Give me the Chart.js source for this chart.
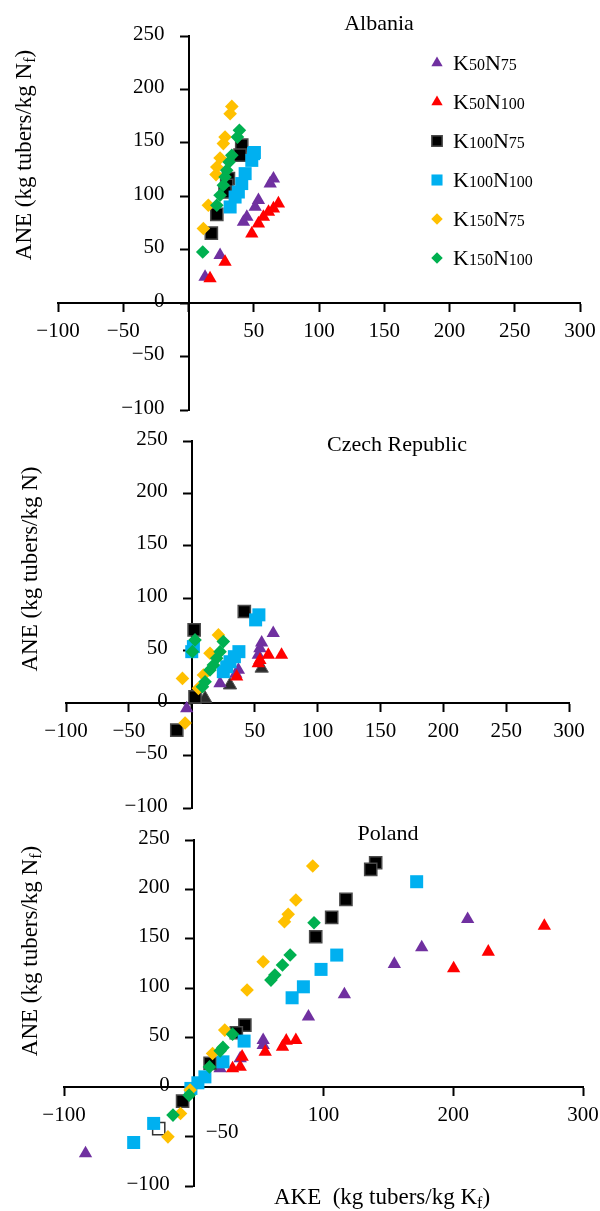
<!DOCTYPE html>
<html lang="en">
<head>
<meta charset="UTF-8">
<title>ANE vs AKE</title>
<script src="https://cdn.jsdelivr.net/npm/chart.js"></script>
<style>
  body { margin: 0; background: #fff; }
  #wrap { position: relative; width: 600px; height: 1211px; }
  canvas { position: absolute; left: 0; }
</style>
</head>
<body>
<div id="wrap">
  <canvas id="albania" width="600" height="424" style="top:0"></canvas>
  <canvas id="czech" width="600" height="400" style="top:424px"></canvas>
  <canvas id="poland" width="600" height="387" style="top:824px"></canvas>
</div>
<script>
// legend names: [K, K-dose, N, N-dose]
const seriesNames = [
  ['K', '50', 'N', '75'],
  ['K', '50', 'N', '100'],
  ['K', '100', 'N', '75'],
  ['K', '100', 'N', '100'],
  ['K', '150', 'N', '75'],
  ['K', '150', 'N', '100']
];

// axis ranges
const xMin = -100, xMax = 300;
const yMin = -100, yMax = 250;

// Albania [AKE, ANE]
const albK50N75 = [[65.1,116.5],[62.6,111.9],[53.6,96.3],[51.1,90.0],[44.7,80.7],[42.1,76.0],[24.2,44.9],[12.7,24.6]];
const albK50N100 = [[68.9,93.2],[65.1,88.5],[61.3,85.3],[57.4,80.7],[53.6,74.5],[48.5,65.1],[28.0,38.6],[16.5,23.1]];
const albK100N75 = [[40.8,148],[39.5,138.5],[30.6,116.5],[29.3,110.3],[28.0,104],[21.7,83],[17.5,65.5]];
const albK100N100 = [[50.5,141],[49.8,139.9],[48.5,133.6],[43.4,121.2],[40.8,111.9],[38.2,104.0],[35.7,99.3],[31.9,90.0]];
const albK150N75 = [[33.2,184.1],[31.9,177.3],[28.0,155.4],[26.7,149.3],[24.2,135.8],[21.7,127.4],[21.1,120.3],[15.2,91.6],[11.4,69.8]];
const albK150N100 = [[39.0,161.7],[37.5,155.4],[33.2,138.3],[31.1,132.1],[29.3,124.3],[28.0,118.0],[26.7,110.3],[24.2,100.9],[21.7,91.6],[10.9,47.9]];

// Czech Republic
const czK50N75 = [[64.8,66.7],[55.6,57.7],[54.2,52.3],[52.9,45.9],[37.1,31.6],[35,28],[22.5,18.9],[-4.0,-5.1]];
const czK50N100 = [[71.4,45.9],[60.9,45.9],[54.2,41.1],[52.9,38.0],[35.7,25.2]];
const czK100N75 = [[41.8,87.4],[1.9,69.9],[2.6,6.0],[-11.9,-25.8]];
const czK100N100 = [[53.4,84.2],[50.8,79.4],[37.5,49.1],[33.9,44.3],[30.4,39.5],[27.8,34.7],[25.1,30.0],[0,49.1],[1.3,53.9]];
const czK150N75 = [[21.2,65.1],[14.5,47.6],[9.3,26.8],[5.3,14.1],[-7.4,23.6],[-5.3,-18.9]];
const czK150N100 = [[2.6,60.3],[0.5,49.1],[25.1,58.7],[22.5,49.1],[19.8,42.8],[17.2,36.4],[14.5,31.6],[10.6,20.4],[8.5,15.6]];
const czDarkTriangles = [[10.6,4.5],[30.4,17.2],[55.6,33.2]];

// Poland
const plK50N75 = [[211.1,170],[175.7,141.4],[154.6,124.5],[116.1,93.8],[88.4,71.2],[53.5,47.6],[53.5,42.5],[35.8,29.0],[20.3,18.9],[-83.4,-67.1]];
const plK50N100 = [[270.2,163],[227.0,136.9],[200.3,120.1],[78.7,47.6],[71.3,46.9],[68.4,40.8],[55.1,35.7],[37.3,30.7],[35.8,20.5],[29.9,18.9]];
const plK100N75 = [[140.2,227.0],[136.4,220.3],[117.3,190.0],[106.3,171.8],[94.0,152.1],[39.4,62.8],[32.8,55.0],[12.6,24],[-8.6,-14.2]];
const plK100N100 = [[171.8,207.8],[110.2,133.6],[98.1,119.1],[84.5,101.5],[75.8,90.4],[38.8,46.6],[22.5,25.6],[8.6,10.4],[3.2,4.4],[-2.2,-1.3],[-30.9,-36.7],[-46.3,-56.0]];
const plK150N75 = [[91.7,223.7],[78.7,189.3],[72.8,174.8],[69.9,167.3],[53.5,126.8],[41.1,98.2],[23.9,57.7],[14.5,34.1],[-2.8,-3],[-10.2,-26.6],[-19.9,-50.3]];
const plK150N100 = [[92.7,166.3],[74.3,133.6],[68.4,123.5],[62.5,113.4],[59.5,108.3],[29.9,53.6],[22.5,40.2],[20.4,36.7],[12.1,20.5],[-3.6,-8.1],[-16.0,-28.3]];
const plHollow = [[-27,-42]];

const FONT = "'Liberation Serif', 'Times New Roman', serif";
Chart.defaults.font.family = FONT;
Chart.defaults.color = '#000';

// marker look per series
const styles = [
  { pointStyle: 'triangle', color: '#7030A0', radius: 7.7, border: '#7030A0', bw: 0 },
  { pointStyle: 'triangle', color: '#FF0000', radius: 7.7, border: '#FF0000', bw: 0 },
  { pointStyle: 'rect', color: '#000000', radius: 8.6, border: '#4a4a4a', bw: 1.5 },
  { pointStyle: 'rect', color: '#00B0F0', radius: 9.2, border: '#00B0F0', bw: 0 },
  { pointStyle: 'rectRot', color: '#FFC000', radius: 6.8, border: '#FFC000', bw: 0 },
  { pointStyle: 'rectRot', color: '#00B050', radius: 6.8, border: '#00B050', bw: 0 }
];

const toXY = arr => arr.map(p => ({ x: p[0], y: p[1] }));
const minus = v => (v < 0 ? '\u2212' + Math.abs(v) : String(v));

function buildDatasets(seriesList) {
  return seriesList.map((data, i) => {
    const s = styles[i];
    return {
      label: seriesNames[i].join(''),
      data: toXY(data),
      pointStyle: s.pointStyle,
      pointRadius: s.radius,
      pointHoverRadius: s.radius,
      backgroundColor: s.color,
      borderColor: s.border,
      pointBorderWidth: s.bw,
      showLine: false,
      clip: false,
      order: 20 - i
    };
  });
}

// draws text made of parts with different sizes
function drawRich(ctx, parts, x, y, align) {
  let total = 0;
  parts.forEach(p => {
    ctx.font = p.size + 'px ' + FONT;
    p.w = ctx.measureText(p.text).width;
    total += p.w;
  });
  let cx = align === 'center' ? x - total / 2 : x;
  ctx.textAlign = 'left';
  ctx.textBaseline = 'alphabetic';
  ctx.fillStyle = '#000';
  parts.forEach(p => {
    ctx.font = p.size + 'px ' + FONT;
    ctx.fillText(p.text, cx, y + (p.dy || 0));
    cx += p.w;
  });
}

function textPlugin(cfg) {
  return {
    id: 'texts_' + cfg.title.replace(' ', ''),
    afterDraw(chart) {
      const ctx = chart.ctx;
      const xS = chart.scales.x, yS = chart.scales.y;
      const x0 = xS.getPixelForValue(0), y0 = yS.getPixelForValue(0);
      ctx.save();
      ctx.fillStyle = '#000';
      ctx.font = '21px ' + FONT;
      // tick labels (axes cross at zero)
      ctx.textBaseline = 'middle';
      ctx.textAlign = 'center';
      xS.ticks.forEach(t => {
        if (t.value === 0) return;
        ctx.fillText(minus(t.value), xS.getPixelForValue(t.value), y0 + 28);
      });
      yS.ticks.forEach(t => {
        if (t.value === cfg.rightLabel) {
          ctx.textAlign = 'left';
          ctx.fillText(minus(t.value), x0 + 12, yS.getPixelForValue(t.value) - 4);
        } else {
          ctx.textAlign = 'right';
          ctx.fillText(minus(t.value), x0 - 24, yS.getPixelForValue(t.value) - 2);
        }
      });
      // country title
      drawRich(ctx, [{ text: cfg.title, size: 22 }], cfg.titleX, cfg.titleY, 'center');
      // y axis title (rotated)
      ctx.save();
      ctx.translate(cfg.yTitleX, cfg.yTitleY);
      ctx.rotate(-Math.PI / 2);
      drawRich(ctx, cfg.yTitle, 0, 0, 'center');
      ctx.restore();
      // x axis title
      if (cfg.xTitle) {
        drawRich(ctx, cfg.xTitle, cfg.xTitleX, cfg.xTitleY, 'center');
      }
      // legend
      if (cfg.legend) {
        const h = Chart.helpers;
        seriesNames.forEach((n, i) => {
          const s = styles[i];
          const ly = 63 + i * 39;
          ctx.fillStyle = s.color;
          ctx.strokeStyle = s.border;
          ctx.lineWidth = s.bw;
          if (h && h.drawPoint) {
            h.drawPoint(ctx, { pointStyle: s.pointStyle, rotation: 0, radius: s.radius * 0.85, borderWidth: s.bw }, 437, ly);
          }
          drawRich(ctx, [
            { text: n[0], size: 22 }, { text: n[1], size: 16 },
            { text: n[2], size: 22 }, { text: n[3], size: 16 }
          ], 453, ly + 7, 'left');
        });
      }
      ctx.restore();
    }
  };
}

function makeChart(id, seriesList, extra, xStep, padding, cfg) {
  const datasets = buildDatasets(seriesList);
  extra.forEach(e => datasets.push(e));
  const axisLook = {
    grid: { drawOnChartArea: false, drawTicks: true, tickLength: 8, tickWidth: 2, tickColor: '#000' },
    border: { display: true, color: '#000', width: 2 }
  };
  return new Chart(document.getElementById(id), {
    type: 'scatter',
    data: { datasets },
    options: {
      responsive: false,
      animation: false,
      layout: { padding },
      plugins: { legend: { display: false }, tooltip: { enabled: false } },
      scales: {
        x: Object.assign({
          type: 'linear',
          position: { y: 0 },
          min: xMin, max: xMax,
          ticks: { stepSize: xStep, display: false, autoSkip: false }
        }, axisLook),
        y: Object.assign({
          type: 'linear',
          position: { x: 0 },
          min: yMin, max: yMax,
          ticks: { stepSize: 50, display: false, autoSkip: false }
        }, axisLook)
      }
    },
    plugins: [textPlugin(cfg)]
  });
}

const aneNf = [
  { text: 'ANE (kg tubers/kg N', size: 23 },
  { text: 'f', size: 16, dy: 4 },
  { text: ')', size: 23 }
];

makeChart('albania',
  [albK50N75, albK50N100, albK100N75, albK100N100, albK150N75, albK150N100],
  [], 50,
  { left: 58, right: 20, top: 36, bottom: 14 },
  { title: 'Albania', titleX: 379, titleY: 30, yTitle: aneNf, yTitleX: 31, yTitleY: 155, legend: true });

makeChart('czech',
  [czK50N75, czK50N100, czK100N75, czK100N100, czK150N75, czK150N100],
  [{
    label: 'dark', data: toXY(czDarkTriangles), pointStyle: 'triangle', pointRadius: 7.7,
    backgroundColor: '#2b2b2b', borderColor: '#555', pointBorderWidth: 1, clip: false, order: 30
  }], 50,
  { left: 66, right: 31, top: 17, bottom: 16 },
  { title: 'Czech Republic', titleX: 397, titleY: 27,
    yTitle: [{ text: 'ANE (kg tubers/kg N)', size: 23 }], yTitleX: 37, yTitleY: 145 });

makeChart('poland',
  [plK50N75, plK50N100, plK100N75, plK100N100, plK150N75, plK150N100],
  [{
    label: 'hollow', data: toXY(plHollow), pointStyle: 'rect', pointRadius: 8.6,
    backgroundColor: '#fff', borderColor: '#333', pointBorderWidth: 1.5, clip: false, order: 30
  }], 100,
  { left: 64, right: 17, top: 16, bottom: 25 },
  { title: 'Poland', titleX: 388, titleY: 16, yTitle: aneNf, yTitleX: 37, yTitleY: 127,
    xTitle: [
      { text: 'AKE  (kg tubers/kg K', size: 23 },
      { text: 'f', size: 16, dy: 4 },
      { text: ')', size: 23 }
    ], xTitleX: 382, xTitleY: 380, rightLabel: -50 });
</script>
</body>
</html>
